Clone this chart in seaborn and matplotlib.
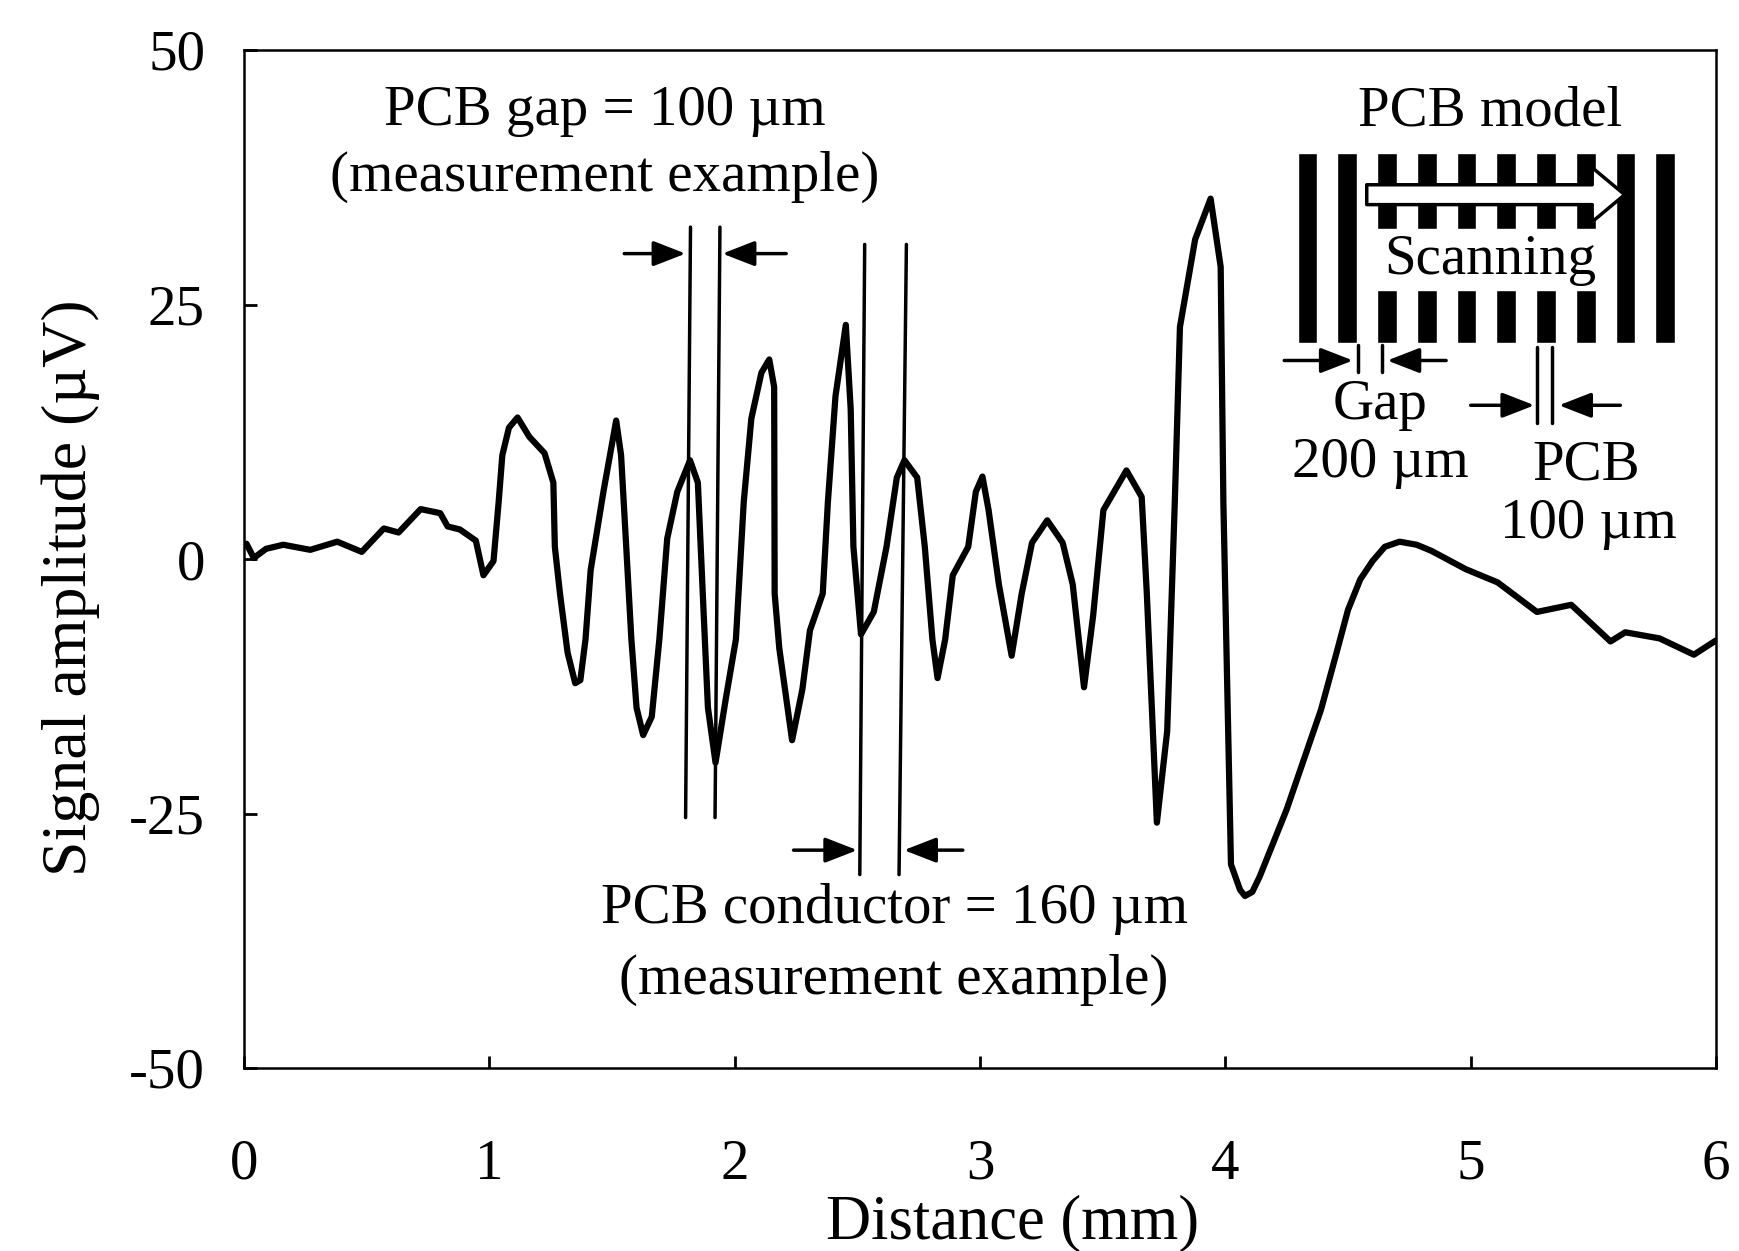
import pandas as pd
import seaborn as sns
import matplotlib.pyplot as plt

# signal trace
distance = [0.01, 0.04, 0.09, 0.16, 0.27, 0.38, 0.48, 0.57, 0.63, 0.72,
            0.80, 0.83, 0.88, 0.945, 0.976, 1.017, 1.038, 1.053, 1.08, 1.115, 1.163, 1.225, 1.261, 1.267,
            1.288, 1.319, 1.35, 1.371, 1.392, 1.413, 1.465, 1.517, 1.537, 1.558, 1.579, 1.60, 1.627, 1.662,
            1.693, 1.725, 1.766, 1.818, 1.85, 1.87, 1.891, 1.922, 1.964, 2.005, 2.037, 2.068, 2.109, 2.141,
            2.161, 2.163, 2.182, 2.234, 2.276, 2.307, 2.359, 2.38, 2.411, 2.453, 2.473, 2.484, 2.515, 2.567,
            2.619, 2.661, 2.692, 2.744, 2.775, 2.806, 2.827, 2.858, 2.889, 2.952, 2.983, 3.01, 3.035, 3.077,
            3.129, 3.17, 3.212, 3.274, 3.337, 3.378, 3.424, 3.461, 3.503, 3.597, 3.659, 3.68, 3.721, 3.763,
            3.794, 3.815, 3.877, 3.94, 3.981, 3.992, 4.023, 4.06, 4.08, 4.11, 4.14, 4.25, 4.39, 4.45,
            4.50, 4.55, 4.60, 4.65, 4.71, 4.78, 4.84, 4.98, 5.11, 5.27, 5.41, 5.57, 5.63, 5.77, 5.91, 6.00]
amplitude = [1.5, 0.1, 1, 1.4, 0.9, 1.7, 0.7, 3, 2.6, 4.9,
             4.5, 3.2, 2.9, 1.8, -1.6, -0.2, 5.6, 10.2, 12.9, 13.9, 12, 10.4, 7.5, 1.2,
             -3.4, -9.2, -12.2, -11.9, -7.9, -1.1, 6.6, 13.6, 10.2, 1.2, -7.9, -14.6, -17.3, -15.5,
             -7.9, 2, 6.6, 9.7, 7.5, -3.4, -14.6, -20, -13.7, -7.9, 5.6, 13.8, 18.3, 19.6,
             16.9, -3.4, -8.8, -17.8, -12.8, -7, -3.4, 5.6, 16, 23, 14.7, 1.2, -7.4, -5.2,
             1.2, 8, 9.7, 8, 1.2, -7.9, -11.7, -7.9, -1.6, 1.2, 6.6, 8.1, 4.8, -2.5,
             -9.5, -3.4, 1.6, 3.8, 1.6, -2.5, -12.6, -5.6, 4.8, 8.7, 6.1, -3.4, -25.9, -16.9,
             5.6, 22.8, 31.4, 35.4, 28.7, 5.6, -30, -32.5, -33.1, -32.7, -31.2, -24.6, -14.8, -9.5,
             -5, -2, -0.2, 1.2, 1.7, 1.4, 0.8, -1, -2.3, -5.2, -4.5, -8.1, -7.2, -7.8, -9.4, -8]

x_ticks = [0, 1, 2, 3, 4, 5, 6]
y_ticks = [-50, -25, 0, 25, 50]
y_tick_labels = ["-50", "-25", "0", "25", "50"]

# measurement guide lines: x top, x bottom, y top, y bottom
guide_x_top = [1.82, 1.94, 2.53, 2.70, 4.54, 4.64, 5.27, 5.33]
guide_x_bot = [1.80, 1.92, 2.51, 2.67, 4.54, 4.64, 5.27, 5.33]
guide_y_top = [32.6, 32.6, 30.9, 30.9, 21.0, 21.0, 20.8, 20.8]
guide_y_bot = [-25.4, -25.4, -31.0, -31.0, 18.4, 18.4, 13.4, 13.4]

# arrows: start x, end x, y
arrow_from = [1.55, 2.21, 2.24, 2.93, 4.24, 4.90, 5.00, 5.61]
arrow_to = [1.80, 1.95, 2.50, 2.69, 4.52, 4.66, 5.26, 5.36]
arrow_y = [30.0, 30.0, -28.6, -28.6, 19.5, 19.5, 15.1, 15.1]

labels = ["PCB gap = 100 µm", "(measurement example)", "PCB conductor = 160 µm",
          "(measurement example)", "PCB model", "Scanning", "Gap", "200 µm", "PCB", "100 µm"]
label_x = [1.47, 1.47, 2.65, 2.65, 5.08, 5.08, 4.63, 4.63, 5.47, 5.48]
label_y = [44.0, 37.5, -34.4, -41.3, 44.0, 29.4, 15.1, 9.4, 9.2, 3.4]

# PCB model conductors, index along the board
bar_pos = [0, 1, 2, 3, 4, 5, 6, 7, 8, 9]
bar_low = [1.0, 1.0, 0.28, 0.28, 0.28, 0.28, 0.28, 0.28, 1.0, 1.0]
bar_up_start = [0.0, 0.0, 0.6, 0.6, 0.6, 0.6, 0.6, 0.6, 0.0, 0.0]
bar_up_h = [1.0, 1.0, 0.4, 0.4, 0.4, 0.4, 0.4, 0.4, 1.0, 1.0]

sns.set_theme(style="ticks")
plt.rcParams['font.family'] = ['Liberation Serif', 'DejaVu Serif']

df = pd.DataFrame({"Distance": distance, "Amplitude": amplitude})

fig = plt.figure(figsize=(17.39, 12.51), dpi=100)
ax = fig.add_axes([244 / 1739, 1 - 1068 / 1251, 1472 / 1739, 1018 / 1251])

sns.lineplot(data=df, x="Distance", y="Amplitude", sort=False, errorbar=None,
             color="black", linewidth=4.5, ax=ax)
ax.set_xlim(0, 6)
ax.set_ylim(-50, 50)
ax.set_xticks(x_ticks)
ax.set_yticks(y_ticks)
ax.set_yticklabels(y_tick_labels)
ax.tick_params(axis="x", direction="in", length=9, width=2, labelsize=41, pad=51, colors="black")
ax.tick_params(axis="y", direction="in", length=9, width=2, labelsize=41, pad=28, colors="black")
for sp in ax.spines.values():
    sp.set_linewidth(1.8)
    sp.set_color("black")
ax.set_xlabel("Distance (mm)", fontsize=45, color="black")
ax.set_ylabel("Signal amplitude (µV)", fontsize=46, color="black")
ax.xaxis.set_label_coords(0.522, -0.124)
ax.yaxis.set_label_coords(-0.098, 0.472)

for x0, x1, y0, y1 in zip(guide_x_top, guide_x_bot, guide_y_top, guide_y_bot):
    ax.plot([x0, x1], [y0, y1], color="black", linewidth=2.5)

for x0, x1, y in zip(arrow_from, arrow_to, arrow_y):
    ax.annotate("", xy=(x1, y), xytext=(x0, y),
                arrowprops=dict(arrowstyle="-|>,head_length=0.9,head_width=0.35", color="black",
                                linewidth=2.5, mutation_scale=22, shrinkA=0, shrinkB=0))

for s, x, y in zip(labels, label_x, label_y):
    ax.text(x, y, s, ha="center", va="center", fontsize=41, color="black", zorder=5)

# PCB model sketch
ins = ax.inset_axes([0.709, 0.712, 0.27, 0.187])
ins.bar(bar_pos, bar_low, width=0.5, bottom=0, color="black")
ins.bar(bar_pos, bar_up_h, width=0.5, bottom=bar_up_start, color="black")
ins.set_xlim(-0.5, 9.5)
ins.set_ylim(0, 1)
ins.axis("off")
ins.annotate("", xy=(7.98, 0.78), xytext=(1.49, 0.78),
             arrowprops=dict(arrowstyle="simple,head_length=0.9,head_width=1.5,tail_width=0.55",
                             facecolor="white", edgecolor="black", linewidth=2.5,
                             mutation_scale=26, shrinkA=0, shrinkB=0))

fig.savefig("out.png", dpi=100)
